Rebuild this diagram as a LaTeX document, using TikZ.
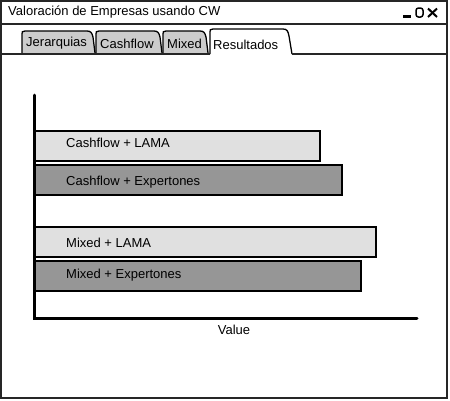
\documentclass[tikz,border=0pt]{standalone}
\usepackage{fontspec}
\setmainfont{Liberation Sans}
\usetikzlibrary{positioning}
\definecolor{tabgray}{RGB}{204,204,204}
\definecolor{barlight}{RGB}{224,224,224}
\definecolor{bardark}{RGB}{150,150,150}
\tikzset{
	frame/.style={draw=black!85, line width=1.6pt},
	tabshape/.style={draw=black, line width=1.3pt, fill=tabgray},
	barshape/.style={draw=black, line width=1.5pt},
	lbl/.style={font=\fontsize{13}{15}\selectfont, inner sep=0pt}
}
\begin{document}
\begin{tikzpicture}[x=1pt,y=-1pt]
		\useasboundingbox (0,0) rectangle (450,400);
		% window
		\draw[frame, fill=white] (1,1) rectangle (447,398);
		\draw[frame] (1,24) -- (447,24);
		\node[lbl, anchor=west] (title) at (8,12.5) {Valoración de Empresas usando CW};
		% window buttons
		\draw[line width=2.4pt] (403,16.5) -- (411,16.5);
		\draw[line width=1.5pt, rounded corners=2.5pt] (416,8) rectangle (423,17);
		\draw[line width=2pt] (428,8.5) -- (437,17);
		\draw[line width=2pt] (437,8.5) -- (428,17);
		% tabs
		\foreach \xl/\xr/\t/\n in {22/95/Jerarquias/tabJer, 96/162/Cashflow/tabCash, 163/208/Mixed/tabMix} {
			\draw[tabshape] (\xl,53) -- (\xl,34) .. controls (\xl,31.5) .. (\xl+3,31) -- (\xr-8,31) .. controls (\xr-4,31) and (\xr-3,33) .. (\xr-2,37) -- (\xr,53);
			\node[lbl, anchor=west] (\n) at (\xl+4,43.5) {\t};
		}
		\draw[tabshape, fill=white] (210,54) -- (210,32) .. controls (210,29.5) .. (213,29) -- (283,29) .. controls (287,29) and (288,31) .. (289,36) -- (292,54);
		\node[lbl, anchor=west] (tabRes) at (213,45) {Resultados};
		\draw[frame] (1,54) -- (210,54);
		\draw[frame] (292,54) -- (447,54);
		% bars
		\foreach \y/\w/\c/\ty/\t/\n in {131/320/barlight/143/Cashflow + LAMA/cashLama,
			165/342/bardark/182/Cashflow + Expertones/cashExp,
			227/376/barlight/243/Mixed + LAMA/mixLama,
			261/361/bardark/275/Mixed + Expertones/mixExp} {
			\draw[barshape, fill=\c] (35,\y) rectangle (\w,\y+30);
			\node[lbl, anchor=west] (\n) at (66,\ty) {\t};
		}
		% axes
		\draw[line width=3pt, line cap=round] (34,95) -- (34,318) -- (417,318);
		\node[lbl] (value) at (234,330) {Value};
\end{tikzpicture}
\end{document}
